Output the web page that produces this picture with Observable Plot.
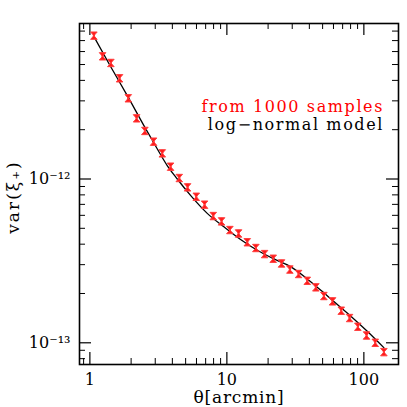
<!DOCTYPE html>
<html><head><meta charset="utf-8">
<script src="https://cdn.jsdelivr.net/npm/d3@7"></script>
<script src="https://cdn.jsdelivr.net/npm/@observablehq/plot@0.6"></script>
<style>body{margin:0;background:#fff} svg{display:block}</style>
</head><body><div id="chart"></div>
<script>
// measured variance from 1000 samples
const theta = [1.07,1.238,1.423,1.647,1.907,2.193,2.52,2.917,3.377,3.882,4.494,5.166,5.979,6.875,7.957,9.147,10.52,12.17,14.09,16.28,18.85,21.8,25.07,28.83,33.38,38.63,44.63,51.05,59.08,68.39,78.65,90.4,104.6,121.1,140];
const varXi = [7.50e-12,5.61e-12,5.11e-12,4.12e-12,3.11e-12,2.346e-12,1.965e-12,1.69e-12,1.434e-12,1.189e-12,1.014e-12,8.89e-13,7.79e-13,6.97e-13,5.94e-13,5.51e-13,4.88e-13,4.65e-13,4.11e-13,3.79e-13,3.48e-13,3.26e-13,3.05e-13,2.80e-13,2.63e-13,2.39e-13,2.18e-13,1.93e-13,1.79e-13,1.57e-13,1.416e-13,1.253e-13,1.108e-13,1.0e-13,8.77e-14];
const relErr = [0.045,0.045,0.045,0.045,0.045,0.045,0.045,0.045,0.045,0.045,0.045,0.045,0.045,0.045,0.045,0.045,0.045,0.045,0.045,0.045,0.045,0.045,0.045,0.045,0.045,0.045,0.045,0.045,0.045,0.045,0.045,0.045,0.045,0.045,0.05];
// log-normal model
const modelTheta = [1.07,1.423,1.907,2.51,3.10,3.67,4.345,5.43,7.19,9.51,12.59,16.67,22.03,29.17,38.63,51.05,60.4,80.0,105.9,140];
const modelVar = [7.40e-12,4.83e-12,3.15e-12,2.08e-12,1.531e-12,1.208e-12,1.0e-12,7.94e-13,6.17e-13,5.105e-13,4.27e-13,3.67e-13,3.25e-13,2.92e-13,2.455e-13,2.018e-13,1.786e-13,1.459e-13,1.175e-13,9.33e-14];
// ticks
const xMajor = [1, 10, 100];
const xMajorLabels = ["1", "10", "100"];
const xMinor = [0.9,2,3,4,5,6,7,8,9,20,30,40,50,60,70,80,90];
const yMajor = [1e-13, 1e-12];
const yMajorLabels = ["10\u207B\u00B9\u00B3", "10\u207B\u00B9\u00B2"];
const yMinor = [8e-14,9e-14,2e-13,3e-13,4e-13,5e-13,6e-13,7e-13,8e-13,9e-13,2e-12,3e-12,4e-12,5e-12,6e-12,7e-12,8e-12];
const legendLabels = ["from 1000 samples", "log\u2212normal model"];
const xTitle = "\u03B8[arcmin]";
const yTitle = "var(\u03BE\u208A)";

const W = 407, H = 407;
const mL = 79, mR = 9, mT = 23, mB = 43;
const innerW = W - mL - mR, innerH = H - mT - mB;
const majLen = 12, minLen = 6;

const samples = theta.map((t, i) => ({t, v: varXi[i], lo: varXi[i] * (1 - relErr[i]), hi: varXi[i] * (1 + relErr[i])}));
const model = modelTheta.map((t, i) => ({t, v: modelVar[i]}));

const hourglass = {
  draw(ctx, size) {
    const w = 3.3, h = 3.7;
    ctx.moveTo(-w, -h); ctx.lineTo(w, -h); ctx.lineTo(-w, h); ctx.lineTo(w, h); ctx.closePath();
  }
};

const font = "DejaVu Serif";
const chart = Plot.plot({
  width: W, height: H,
  marginLeft: mL, marginRight: mR, marginTop: mT, marginBottom: mB,
  style: {fontFamily: font, background: "#fff"},
  x: {type: "log", domain: [0.84, 179], axis: null},
  y: {type: "log", domain: [7.37e-14, 8.9e-12], axis: null},
  marks: [
    // ticks (inward, all four sides)
    Plot.ruleX(xMajor, {x: d => d, insetTop: innerH - majLen, stroke: "#000", strokeWidth: 1.2}),
    Plot.ruleX(xMajor, {x: d => d, insetBottom: innerH - majLen, stroke: "#000", strokeWidth: 1.2}),
    Plot.ruleX(xMinor, {x: d => d, insetTop: innerH - minLen, stroke: "#000", strokeWidth: 1}),
    Plot.ruleX(xMinor, {x: d => d, insetBottom: innerH - minLen, stroke: "#000", strokeWidth: 1}),
    Plot.ruleY(yMajor, {y: d => d, insetRight: innerW - majLen, stroke: "#000", strokeWidth: 1.2}),
    Plot.ruleY(yMajor, {y: d => d, insetLeft: innerW - majLen, stroke: "#000", strokeWidth: 1.2}),
    Plot.ruleY(yMinor, {y: d => d, insetRight: innerW - minLen, stroke: "#000", strokeWidth: 1}),
    Plot.ruleY(yMinor, {y: d => d, insetLeft: innerW - minLen, stroke: "#000", strokeWidth: 1}),
    Plot.frame({stroke: "#000", strokeWidth: 1.6}),
    // tick labels
    Plot.text(xMajor, {x: d => d, text: (d, i) => xMajorLabels[i], frameAnchor: "bottom", lineAnchor: "middle", dy: 15, fontSize: 16, fill: "#000"}),
    Plot.text(yMajor, {y: d => d, text: (d, i) => yMajorLabels[i], frameAnchor: "left", textAnchor: "end", lineAnchor: "middle", dx: -9, fontSize: 16, fill: "#000"}),
    // titles
    Plot.text([xTitle], {frameAnchor: "bottom", lineAnchor: "middle", textAnchor: "middle", dy: 33, fontSize: 17, fill: "#000"}),
    Plot.text([yTitle], {frameAnchor: "left", textAnchor: "middle", lineAnchor: "middle", dx: -66, dy: 3, rotate: -90, fontSize: 17, fill: "#000"}),
    // model
    Plot.line(model, {x: "t", y: "v", stroke: "#000", strokeWidth: 1.3, curve: "monotone-x"}),
    // samples
    Plot.ruleX(samples, {x: "t", y1: "lo", y2: "hi", stroke: "#ff0000", strokeWidth: 2}),
    Plot.dot(samples, {x: "t", y: "v", symbol: hourglass, r: 3, fill: "#ff1a1a", stroke: "#ff4040", strokeWidth: 1}),
    // legend
    Plot.text([legendLabels[0]], {frameAnchor: "top-right", lineAnchor: "middle", dx: -14.5, dy: 83, fontSize: 16, fill: "#ff0000", textAnchor: "end"}),
    Plot.text([legendLabels[1]], {frameAnchor: "top-right", lineAnchor: "middle", dx: -14.5, dy: 101, fontSize: 16, fill: "#000", textAnchor: "end"})
  ]
});
const spacing = new Map([[legendLabels[0], "1.6px"], [legendLabels[1], "1.6px"], [xTitle, "0.8px"], [yTitle, "2px"]]);
d3.select(chart).selectAll("text").each(function() {
  const s = spacing.get(this.textContent);
  if (s) this.style.letterSpacing = s;
});
document.getElementById("chart").appendChild(chart);
</script>
</body></html>
